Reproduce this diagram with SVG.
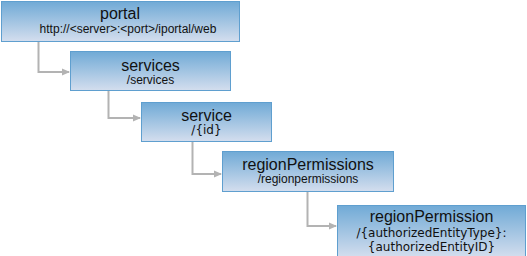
<svg xmlns="http://www.w3.org/2000/svg" width="527" height="256" viewBox="0 0 527 256">
<style>
.box{fill:url(#g);stroke:#5f9fcf;stroke-width:1}
.t{font-family:"Liberation Sans",Arial,sans-serif;font-size:16px;fill:#111;text-anchor:middle}
.s{font-family:"Liberation Sans",Arial,sans-serif;font-size:12px;fill:#111;text-anchor:middle}
.v{font-family:"DejaVu Sans",Verdana,sans-serif;font-size:12px;fill:#111;text-anchor:middle}
.c{fill:none;stroke:#b3b3b3;stroke-width:2;marker-end:url(#a)}
</style>
<defs>
<linearGradient id="g" x1="0" y1="0" x2="0" y2="1">
<stop offset="0" stop-color="#70aad6"/>
<stop offset="1" stop-color="#d4deee"/>
</linearGradient>
<marker id="a" markerWidth="8" markerHeight="8" refX="7" refY="4" orient="auto" markerUnits="userSpaceOnUse">
<path d="M0,0.5 L8,4 L0,7.5 z" fill="#b3b3b3"/>
</marker>
</defs>
<g id="connectors">
<path class="c" d="M38.5,42 V72 H69"/>
<path class="c" d="M108.5,91 V118 H140"/>
<path class="c" d="M192.5,142 V174 H221"/>
<path class="c" d="M307.5,192 V226 H336"/>
</g>
<g id="portal">
<rect class="box" x="1.5" y="1.5" width="238" height="40"/>
<text class="t" x="120" y="19">portal</text>
<text class="s" x="128" y="33">http://&lt;server&gt;:&lt;port&gt;/iportal/web</text>
</g>
<g id="services">
<rect class="box" x="70.5" y="51.5" width="160" height="39"/>
<text class="t" x="150.5" y="71">services</text>
<text class="s" x="150.5" y="84">/services</text>
</g>
<g id="service">
<rect class="box" x="141.5" y="102.5" width="130" height="39"/>
<text class="t" x="206.5" y="121">service</text>
<text class="v" x="206.5" y="134">/{id}</text>
</g>
<g id="regionPermissions">
<rect class="box" x="222.5" y="151.5" width="171" height="40"/>
<text class="t" x="308" y="170">regionPermissions</text>
<text class="s" x="308" y="183">/regionpermissions</text>
</g>
<g id="regionPermission">
<rect class="box" x="337.5" y="205.5" width="188" height="52"/>
<text class="t" x="431.5" y="222">regionPermission</text>
<text class="v" x="431.5" y="237">/{authorizedEntityType}:</text>
<text class="v" x="431.5" y="251">{authorizedEntityID}</text>
</g>
</svg>
